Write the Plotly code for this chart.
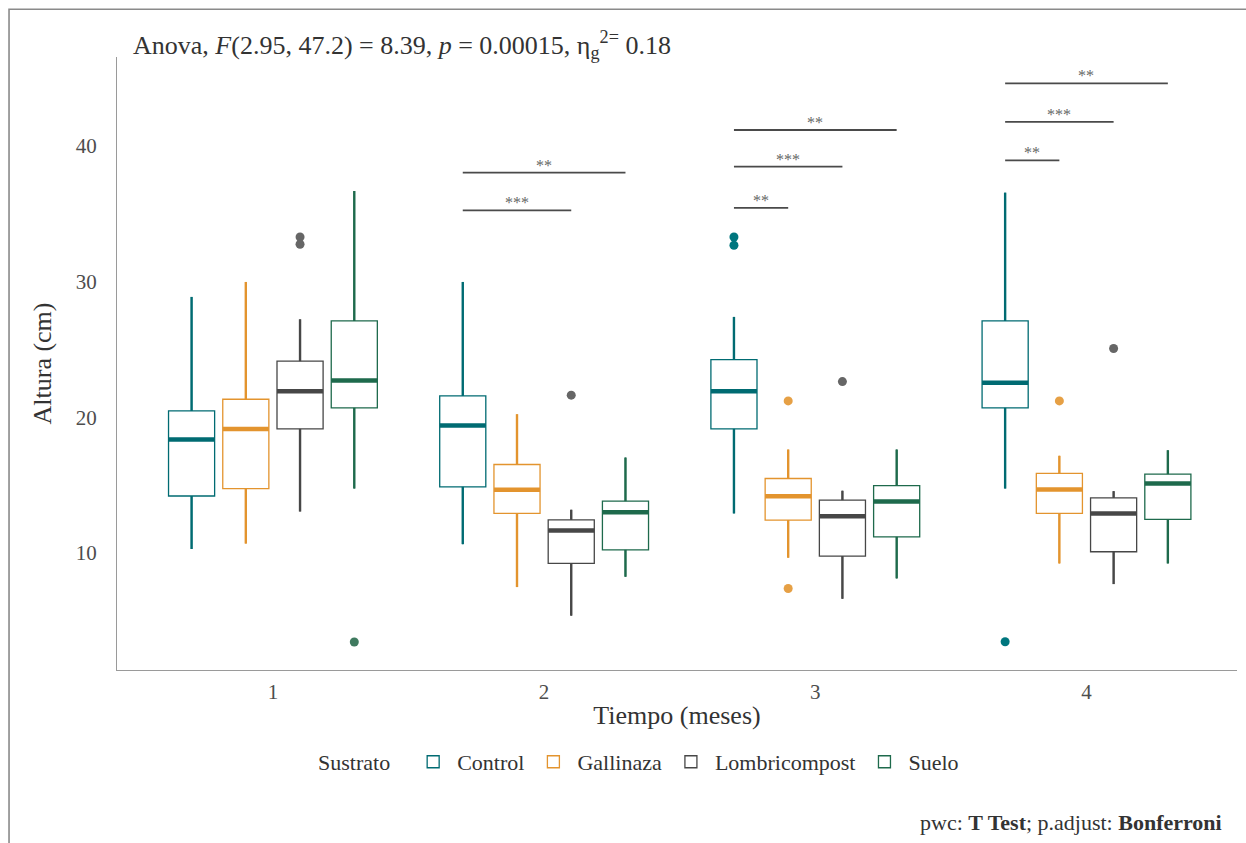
import plotly.graph_objects as go

# ---------------- data ----------------
months = [1, 2, 3, 4]
series = ["Control", "Gallinaza", "Lombricompost", "Suelo"]
colors = ["#006B72", "#E3942E", "#474747", "#1E6A4C"]
out_colors = ["#00767E", "#E6A045", "#666666", "#3F7A5F"]

control_lower = [10.3, 10.66, 12.92, 14.75]
control_q1 = [14.2, 14.88, 19.14, 20.69]
control_med = [18.36, 19.39, 21.91, 22.53]
control_q3 = [20.46, 21.57, 24.24, 27.08]
control_upper = [28.85, 29.95, 27.38, 36.52]
control_out_month = [3, 3, 4]
control_out_val = [33.26, 32.65, 3.48]

gallinaza_lower = [10.7, 7.5, 9.66, 9.24]
gallinaza_q1 = [14.75, 12.92, 12.43, 12.92]
gallinaza_med = [19.14, 14.66, 14.19, 14.68]
gallinaza_q3 = [21.32, 16.52, 15.49, 15.86]
gallinaza_upper = [29.95, 20.22, 17.62, 17.16]
gallinaza_out_month = [3, 3, 4]
gallinaza_out_val = [21.2, 7.4, 21.2]

lombri_lower = [13.06, 5.4, 6.64, 7.72]
lombri_q1 = [19.14, 9.24, 9.78, 10.1]
lombri_med = [21.91, 11.67, 12.72, 12.92]
lombri_q3 = [24.12, 12.45, 13.9, 14.07]
lombri_upper = [27.2, 13.19, 14.59, 14.56]
lombri_out_month = [1, 1, 2, 3, 4]
lombri_out_val = [33.26, 32.72, 21.62, 22.62, 25.05]

suelo_lower = [14.75, 8.26, 8.14, 9.24]
suelo_q1 = [20.69, 10.24, 11.2, 12.48]
suelo_med = [22.7, 13.01, 13.8, 15.12]
suelo_q3 = [27.08, 13.82, 14.96, 15.81]
suelo_upper = [36.64, 17.03, 17.62, 17.57]
suelo_out_month = [1]
suelo_out_val = [3.46]

# significance brackets (from Control to the named series)
bracket_month = [2, 2, 3, 3, 3, 4, 4, 4]
bracket_to = ["Lombricompost", "Suelo", "Gallinaza", "Lombricompost", "Suelo",
              "Gallinaza", "Lombricompost", "Suelo"]
bracket_y = [35.22, 38.0, 35.4, 38.43, 41.13, 38.9, 41.73, 44.56]
bracket_label = ["***", "**", "**", "***", "**", "**", "***", "**"]

# --------------- assemble ---------------
stats = [
    (control_lower, control_q1, control_med, control_q3, control_upper, control_out_month, control_out_val),
    (gallinaza_lower, gallinaza_q1, gallinaza_med, gallinaza_q3, gallinaza_upper, gallinaza_out_month, gallinaza_out_val),
    (lombri_lower, lombri_q1, lombri_med, lombri_q3, lombri_upper, lombri_out_month, lombri_out_val),
    (suelo_lower, suelo_q1, suelo_med, suelo_q3, suelo_upper, suelo_out_month, suelo_out_val),
]

DODGE = 0.2
BOXW = 0.17
SERIF = "Liberation Serif"


def pos(month, i):
    return month + (i - (len(series) - 1) / 2) * DODGE


fig = go.Figure()

for i, (name, (lo, q1, med, q3, up, om, ov)) in enumerate(zip(series, stats)):
    xs = [pos(m, i) for m in months]
    fig.add_trace(go.Box(
        x=xs, q1=q1, median=med, q3=q3, lowerfence=lo, upperfence=up,
        width=BOXW, boxpoints=False, whiskerwidth=0,
        line=dict(color=colors[i], width=1.3), fillcolor="white",
        name=name, legendgroup=name, showlegend=True, hoverinfo="skip",
    ))
    # whiskers (thicker)
    wx, wy = [], []
    for x, a, b, c, d in zip(xs, lo, q1, q3, up):
        wx += [x, x, None, x, x, None]
        wy += [c, d, None, b, a, None]
    fig.add_trace(go.Scatter(x=wx, y=wy, mode="lines",
                             line=dict(color=colors[i], width=2.4),
                             showlegend=False, hoverinfo="skip"))
    # thick median
    mx, my = [], []
    for x, m in zip(xs, med):
        mx += [x - BOXW / 2, x + BOXW / 2, None]
        my += [m, m, None]
    fig.add_trace(go.Scatter(x=mx, y=my, mode="lines",
                             line=dict(color=colors[i], width=4.5),
                             showlegend=False, hoverinfo="skip"))
    # outliers
    fig.add_trace(go.Scatter(x=[pos(m, i) for m in om], y=ov, mode="markers",
                             marker=dict(color=out_colors[i], size=9),
                             showlegend=False, hoverinfo="skip"))

# brackets
ctrl_idx = series.index("Control")
for m, to, yv, lab in zip(bracket_month, bracket_to, bracket_y, bracket_label):
    x0 = pos(m, ctrl_idx)
    x1 = pos(m, series.index(to))
    fig.add_trace(go.Scatter(x=[x0, x1], y=[yv, yv], mode="lines",
                             line=dict(color="#4a4a4a", width=1.8),
                             showlegend=False, hoverinfo="skip"))
    fig.add_annotation(x=(x0 + x1) / 2, y=yv, text=lab, showarrow=False,
                       xanchor="center", yanchor="bottom", yshift=-3,
                       font=dict(family=SERIF, size=16, color="#666666"))

# title / caption
fig.add_annotation(
    xref="paper", yref="paper", x=0.0125, y=1.02, xanchor="left", yanchor="middle",
    text="Anova, <i>F</i>(2.95, 47.2) = 8.39, <i>p</i> = 0.00015, η<sub>g</sub><sup>2=</sup> 0.18",
    showarrow=False, font=dict(family=SERIF, size=26, color="#333333"))
fig.add_annotation(
    xref="paper", yref="paper", x=0.988, y=-0.248, xanchor="right", yanchor="middle",
    text="pwc: <b>T Test</b>; p.adjust: <b>Bonferroni</b>",
    showarrow=False, font=dict(family=SERIF, size=22, color="#333333"))

# outer frame
fig.add_shape(type="rect", xref="paper", yref="paper",
              x0=-0.0964, x1=1.03, y0=-0.35, y1=1.078,
              line=dict(color="#8a8a8a", width=1.6), layer="above")

fig.update_layout(
    width=1246, height=843,
    margin=dict(l=117, r=9, t=57, b=173),
    paper_bgcolor="white", plot_bgcolor="white",
    boxmode="overlay",
    font=dict(family=SERIF, color="#333333"),
    legend=dict(orientation="h", x=0.467, xanchor="center", y=-0.15, yanchor="middle",
                title=dict(text="Sustrato  ", font=dict(family=SERIF, size=22, color="#333333")),
                font=dict(family=SERIF, size=22, color="#333333"),
                itemwidth=38, bgcolor="rgba(0,0,0,0)"),
    xaxis=dict(range=[0.425, 4.555], tickmode="array", tickvals=months,
               ticktext=[str(m) for m in months], showgrid=False, zeroline=False,
               showline=True, linecolor="#9a9a9a", linewidth=1.2, ticks="",
               ticklabelstandoff=3,
               tickfont=dict(family=SERIF, size=21, color="#4d4d4d"),
               title=dict(text="Tiempo (meses)", standoff=2,
                          font=dict(family=SERIF, size=26, color="#333333"))),
    yaxis=dict(range=[1.4, 46.5], tickvals=[10, 20, 30, 40], showgrid=False,
               zeroline=False, showline=True, linecolor="#9a9a9a", linewidth=1.2,
               ticks="", ticklabelstandoff=15,
               tickfont=dict(family=SERIF, size=21, color="#4d4d4d"),
               title=dict(text="Altura (cm)", standoff=16,
                          font=dict(family=SERIF, size=26, color="#333333"))),
)

fig.write_html("out.html")
